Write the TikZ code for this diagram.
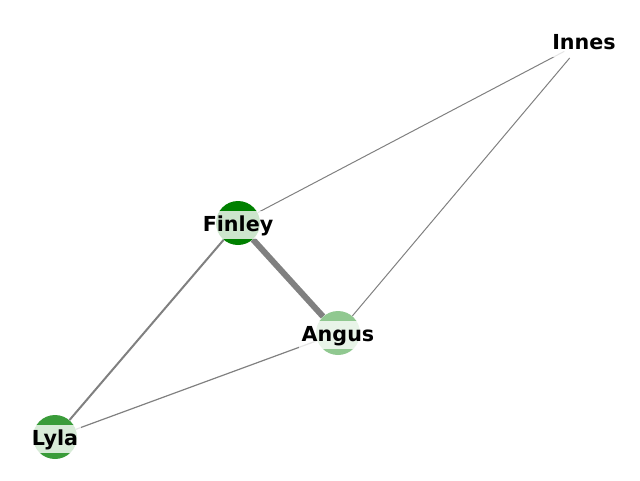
\documentclass[tikz,border=0pt]{standalone}
\usepackage{fontspec}
\setmainfont{DejaVu Sans}
\definecolor{cF}{RGB}{0,128,0}
\definecolor{cA}{RGB}{144,200,144}
\definecolor{cL}{RGB}{58,156,58}
\definecolor{cI}{RGB}{255,255,255}
\definecolor{edgegray}{RGB}{128,128,128}
\begin{document}
\begin{tikzpicture}[x=0.75pt,y=-0.75pt,
  vert/.style={circle,minimum size=33pt,inner sep=0pt,draw=none},
  lab/.style={font=\bfseries\fontsize{15.5}{17}\selectfont, fill=white, fill opacity=0.8, text opacity=1, inner xsep=2pt, inner ysep=0pt, minimum height=21pt, text height=11.5pt, text depth=3pt, yshift=-1.8pt},
  link/.style={draw=edgegray, line cap=butt}]
\useasboundingbox (0,0) rectangle (640,480);
\node[vert, fill=cF] (F) at (238,223) {};
\node[vert, fill=cA] (A) at (338,333) {};
\node[vert, fill=cL] (L) at (55,437) {};
\node[vert, fill=cI] (I) at (584,41) {};
\draw[link, line width=4.5pt] (F) -- (A);
\draw[link, line width=1.5pt] (F) -- (L);
\draw[link, line width=0.9pt] (L) -- (A);
\draw[link, line width=0.75pt] (F) -- (I);
\draw[link, line width=0.75pt] (A) -- (I);
\node[lab] (Ft) at (F) {Finley};
\node[lab] (At) at (A) {Angus};
\node[lab] (Lt) at (L) {Lyla};
\node[lab] (It) at (I) {Innes};
\end{tikzpicture}
\end{document}
